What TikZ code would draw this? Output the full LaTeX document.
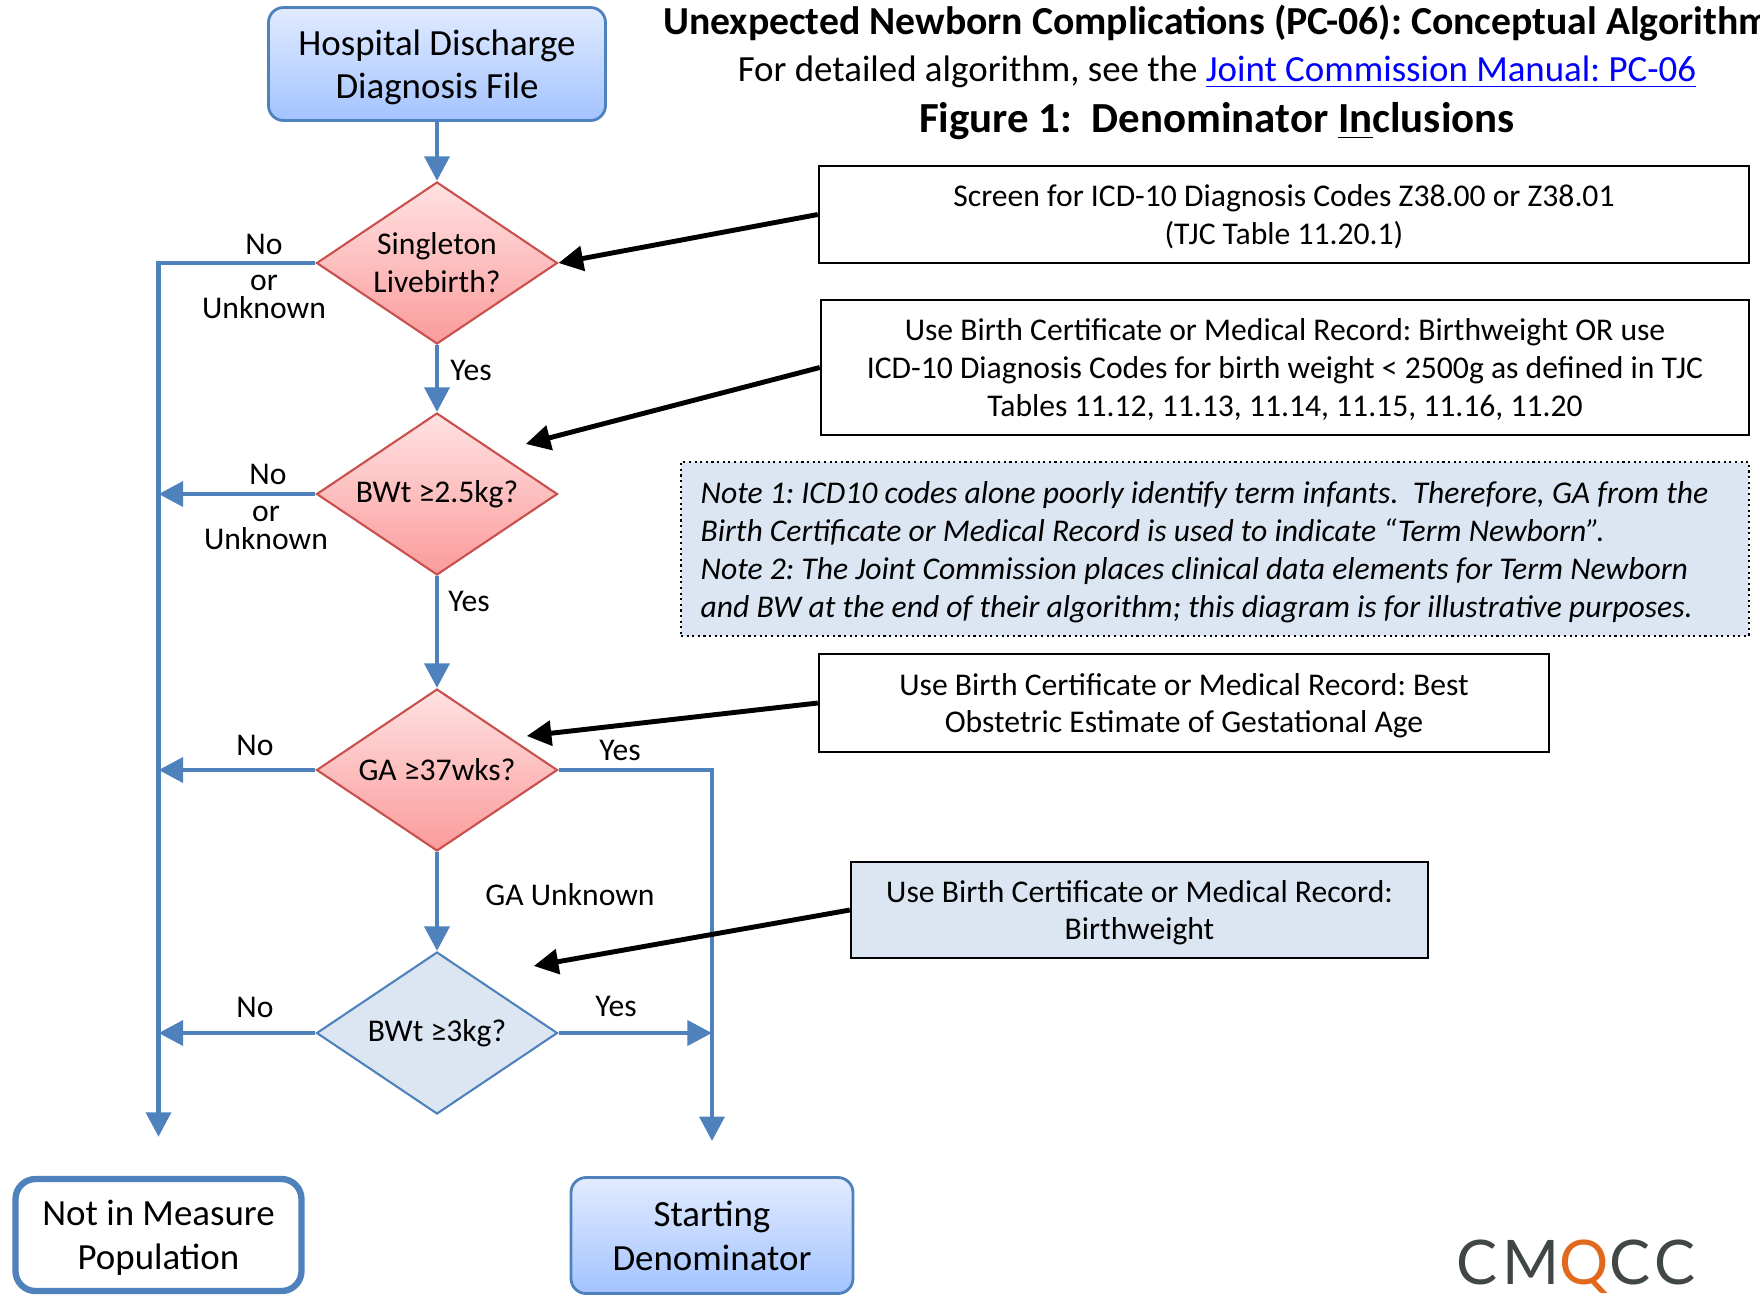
\documentclass[tikz,border=0pt]{standalone}
\usepackage{fontspec}
\setmainfont{Carlito}
\newfontfamily\logofont[LetterSpace=8]{Lato}
\usetikzlibrary{shapes.geometric,arrows.meta}
\definecolor{flowblue}{RGB}{79,129,189}
\definecolor{qred}{RGB}{200,80,77}
\definecolor{paleblue}{RGB}{220,230,242}
\definecolor{linkblue}{RGB}{0,0,255}
\definecolor{logogray}{RGB}{65,71,71}
\definecolor{logoorange}{RGB}{225,105,30}
\frenchspacing

\begin{document}
\begin{tikzpicture}[
    x=1cm, y=-1cm,
    flow/.style={draw=flowblue, line width=1.4pt, -{Triangle[length=7pt,width=7pt]}},
    feed/.style={draw=black, line width=1.4pt, -{Triangle[length=7pt,width=7pt]}},
    redq/.style={diamond, aspect=1.5, draw=qred, line width=0.6pt, top color={rgb,255:red,255;green,226;blue,226}, bottom color={rgb,255:red,251;green,155;blue,155}, minimum width=2.41cm, minimum height=1.62cm, inner sep=0pt, align=center, font=\fontsize{9}{10.8}\selectfont},
    blueq/.style={redq, draw=flowblue, fill=paleblue, top color=paleblue, bottom color=paleblue},
    endbox/.style={rectangle, rounded corners=0.15cm, draw=flowblue, line width=0.8pt, top color={rgb,255:red,225;green,235;blue,255}, bottom color={rgb,255:red,163;green,195;blue,255}, align=center, text depth=0pt, font=\fontsize{10.5}{12.4}\selectfont},
    infobox/.style={rectangle, draw=black, line width=0.7pt, fill=white, align=center, text depth=0pt, font=\fontsize{9}{10.8}\selectfont},
    lbl/.style={inner sep=0pt, font=\fontsize{9}{8}\selectfont, align=center},
]
\useasboundingbox (0,0) rectangle (17.6,12.95);

\node[font=\bfseries\fontsize{11.3}{13}\selectfont] (title) at (12.17,0.23) {Unexpected Newborn Complications (PC-06): Conceptual Algorithm};
\node[font=\fontsize{10.5}{12}\selectfont] (subtitle) at (12.17,0.72) {For detailed algorithm, see the \textcolor{linkblue}{\underline{Joint Commission Manual: PC-06}}};
\node[font=\bfseries\fontsize{12.2}{14}\selectfont] (figtitle) at (12.17,1.21) {Figure 1:~ Denominator \underline{In}clusions};

\node[endbox, minimum width=3.37cm, minimum height=1.13cm] (file) at (4.37,0.64) {Hospital Discharge\\Diagnosis File};
\node[redq] (single) at (4.37,2.63) {Singleton\\Livebirth?};
\node[redq] (bw25) at (4.37,4.94) {BWt ≥2.5kg?};
\node[redq] (ga) at (4.37,7.70) {GA ≥37wks?};
\node[blueq] (bw3) at (4.37,10.33) {BWt ≥3kg?};
\node[endbox, top color=white, bottom color=white, line width=1.8pt, rounded corners=0.2cm, minimum width=2.86cm, minimum height=1.12cm] (notin) at (1.585,12.35) {Not in Measure\\Population};
\node[endbox, minimum width=2.82cm, minimum height=1.16cm] (denom) at (7.12,12.355) {Starting\\Denominator};

\node[infobox, minimum width=9.30cm, minimum height=0.97cm] (screen) at (12.84,2.145) {Screen for ICD-10 Diagnosis Codes Z38.00 or Z38.01\\(TJC Table 11.20.1)};
\node[infobox, minimum width=9.28cm, minimum height=1.35cm] (birthbox) at (12.85,3.675) {Use Birth Certificate or Medical Record: Birthweight OR use\\ICD-10 Diagnosis Codes for birth weight < 2500g as defined in TJC\\Tables 11.12, 11.13, 11.14, 11.15, 11.16, 11.20};
\node[rectangle, fill=paleblue, draw=black, densely dotted, line width=0.6pt, minimum width=10.68cm, minimum height=1.74cm] (note) at (12.15,5.49) {};
\node[anchor=west, inner sep=0pt, align=left, font=\itshape\fontsize{9}{10.8}\selectfont] (notetext) at ([xshift=0.2cm,yshift=-0.03cm]note.west) {Note 1: ICD10 codes alone poorly identify term infants.~ Therefore, GA from the\\Birth Certificate or Medical Record is used to indicate “Term Newborn”.\\Note 2: The Joint Commission places clinical data elements for Term Newborn\\and BW at the end of their algorithm; this diagram is for illustrative purposes.};
\node[infobox, minimum width=7.30cm, minimum height=0.98cm] (gabox) at (11.84,7.03) {Use Birth Certificate or Medical Record: Best\\Obstetric Estimate of Gestational Age};
\node[infobox, fill=paleblue, minimum width=5.77cm, minimum height=0.96cm] (bwbox) at (11.395,9.10) {Use Birth Certificate or Medical Record:\\Birthweight};

\node[lbl] (no1) at (2.64,2.44) {No};
\node[lbl] (unk1) at (2.64,2.965) {or\\Unknown};
\node[lbl] (yes1) at (4.71,3.70) {Yes};
\node[lbl] (no2) at (2.68,4.74) {No};
\node[lbl] (unk2) at (2.66,5.28) {or\\Unknown};
\node[lbl] (yes2) at (4.69,6.01) {Yes};
\node[lbl] (no3) at (2.55,7.45) {No};
\node[lbl] (yes3) at (6.20,7.50) {Yes};
\node[lbl] (gaunk) at (5.70,8.95) {GA Unknown};
\node[lbl] (no4) at (2.55,10.07) {No};
\node[lbl] (yes4) at (6.16,10.06) {Yes};

\node[anchor=base, text=logogray, font=\logofont\fontsize{17.5}{20}\selectfont] (logo) at (15.76,12.84) {CM\textcolor{logoorange}{Q}CC};

\draw[flow] (file) -- (single);
\draw[flow] (single) -- (bw25);
\draw[flow] (bw25) -- (ga);
\draw[flow] (ga) -- (bw3);
\draw[flow, shorten >=0.39cm] (single.west) -| (notin.north);
\draw[flow] (bw25.west) -- (bw25.west -| notin.north);
\draw[flow] (ga.west) -- (ga.west -| notin.north);
\draw[flow] (bw3.west) -- (bw3.west -| notin.north);
\draw[flow, shorten >=0.35cm] (ga.east) -| (denom.north);
\draw[flow] (bw3.east) -- (bw3.east -| denom.north);

\draw[feed] (screen.west) -- (single.east);
\draw[feed] (birthbox.west) -- ([xshift=0.28cm,yshift=0.09cm]bw25.north east);
\draw[feed] (gabox.west) -- ([xshift=0.29cm,yshift=-0.07cm]ga.north east);
\draw[feed] (bwbox.west) -- ([xshift=0.36cm,yshift=0.26cm]bw3.north east);
\end{tikzpicture}
\end{document}
